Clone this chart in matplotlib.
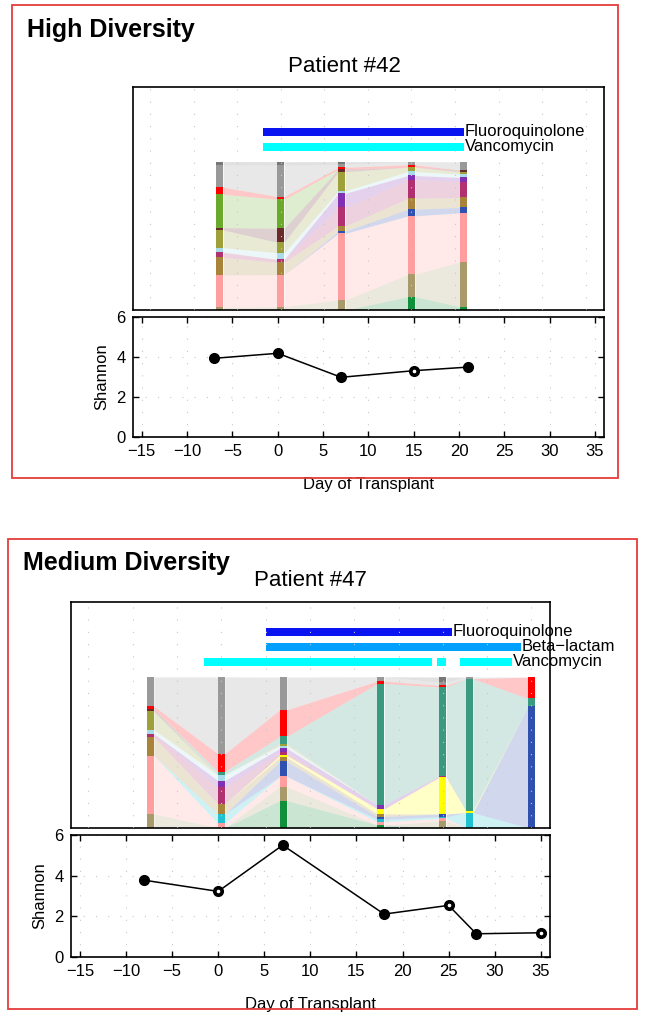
import numpy as np
import matplotlib.pyplot as plt
from matplotlib.patches import Rectangle

plt.rcParams['font.family'] = ['Liberation Sans', 'DejaVu Sans']
plt.rcParams['font.size'] = 12

W, H = 645, 1022

# colours of the taxa, bottom -> top of each stack
taxa_names = ['dkgreen', 'tan', 'pink', 'cyan', 'blue', 'brown', 'yellow', 'magenta',
              'purple', 'ltblue', 'olive', 'dkbrown', 'green', 'teal', 'red', 'gray', 'dkgray']
taxa_colors = ['#10903a', '#a89a6a', '#ff9e9e', '#20c0d0', '#3050b0', '#a8843a', '#ffff00', '#b03070',
               '#8030b0', '#a8dce8', '#9ea03a', '#6a2a2a', '#6aaa2a', '#3a9a80', '#ff0000', '#999999', '#777777']

# ---- Patient 42 (high diversity) ----
p42_days = [-7, 0, 7, 15, 21]
p42_comp = {  # fraction per sample
    'dkgreen': [0, 0, 0, .090, .022],
    'tan':     [.018, .022, .067, .151, .303],
    'pink':    [.218, .216, .449, .393, .330],
    'blue':    [0, 0, .016, .045, .036],
    'brown':   [.119, .083, .034, .074, .067],
    'magenta': [.034, .020, .126, .124, .106],
    'purple':  [0, 0, .094, .029, .029],
    'ltblue':  [.031, .045, .016, .027, .022],
    'olive':   [.119, .070, .130, .029, .016],
    'dkbrown': [.016, .094, .016, 0, .011],
    'green':   [.225, .196, 0, 0, 0],
    'red':     [.047, .018, .013, .016, 0],
    'gray':    [.151, .213, .020, .022, .056],
    'dkgray':  [.022, .022, .018, 0, 0],
}
p42_shannon = [3.92, 4.17, 2.97, 3.30, 3.48]
p42_open = [3]
p42_abx = ['Fluoroquinolone', 'Vancomycin']
p42_abx_colors = ['#0a14f0', '#00ffff']
p42_abx_spans = [[(-2, 21)], [(-2, 21)]]

# ---- Patient 47 (medium diversity) ----
p47_days = [-8, 0, 7, 18, 25, 28, 35]
p47_comp = {
    'dkgreen': [0, 0, .180, .018, 0, 0, 0],
    'tan':     [.091, 0, .093, 0, .044, 0, 0],
    'pink':    [.388, .029, .067, .022, .018, 0, 0],
    'cyan':    [0, .062, 0, .016, .011, .100, 0],
    'blue':    [0, 0, .100, .018, .018, 0, .805],
    'brown':   [.122, .067, .027, .018, 0, 0, 0],
    'yellow':  [0, 0, .013, .033, .244, .011, 0],
    'magenta': [.022, .111, .020, 0, .009, 0, 0],
    'purple':  [0, .044, .027, .027, 0, 0, 0],
    'ltblue':  [.027, .038, .018, 0, 0, 0, 0],
    'olive':   [.122, 0, .013, 0, 0, 0, 0],
    'dkbrown': [.016, 0, 0, 0, 0, 0, 0],
    'teal':    [0, .022, .048, .805, .590, .878, .053],
    'red':     [.018, .118, .177, .016, .011, 0, .142],
    'gray':    [.195, .510, .217, .029, .022, .011, 0],
    'dkgray':  [0, 0, 0, 0, .033, 0, 0],
}
p47_shannon = [3.77, 3.22, 5.50, 2.10, 2.53, 1.13, 1.18]
p47_open = [1, 4, 6]
p47_abx = ['Fluoroquinolone', 'Beta\u2212lactam', 'Vancomycin']
p47_abx_colors = ['#0a14f0', '#00a0ff', '#00ffff']
p47_abx_spans = [[(5, 26)], [(5, 33.8)], [(-2, 23.8), (24.4, 25.4), (26.9, 32.8)]]

fig = plt.figure(figsize=(W / 100, H / 100), dpi=100)


def px_axes(l, t, r, b):
    return fig.add_axes([l / W, 1 - b / H, (r - l) / W, (b - t) / H])


def red_box(l, t, r, b):
    fig.add_artist(Rectangle((l / W, 1 - b / H), (r - l) / W, (b - t) / H, transform=fig.transFigure,
                             fill=False, ec='#e53b3b', lw=1.3))


def draw_comp(ax, days, comp, abx, abx_colors, abx_spans, title, title_x=0.5):
    w = 0.78
    names = [n for n in taxa_names if n in comp]
    cols = [taxa_colors[taxa_names.index(n)] for n in names]
    fr = np.array([comp[n] for n in names])
    tops = np.cumsum(fr, axis=0)
    bots = tops - fr
    # flows between neighbouring samples
    for i in range(len(days) - 1):
        xa, xb = days[i] + w / 2, days[i + 1] - w / 2
        for k in range(len(names)):
            ax.fill_between([xa, xb], [bots[k, i], bots[k, i + 1]], [tops[k, i], tops[k, i + 1]],
                            color=cols[k], alpha=0.22, lw=0)
    for k in range(len(names)):
        ax.bar(days, fr[k], bottom=bots[k], width=w, color=cols[k], lw=0)
    # antibiotics
    n = len(abx)
    for j in range(n):
        y = 1.1 + 0.1 * (n - 1 - j)
        for s, e in abx_spans[j]:
            ax.barh(y, e - s, left=s, height=0.055, color=abx_colors[j], lw=0)
        ax.text(abx_spans[j][-1][1] + 0.1, y, abx[j], va='center', ha='left', fontsize=12)
    ax.set_xlim(-17, 37.1)
    ax.set_ylim(0, 1.5)
    ax.set_xticks(range(-15, 36, 5))
    ax.set_yticks([])
    ax.tick_params(length=0, labelbottom=False)
    ax.grid(True, axis='x', color='#c8c8c8', ls=(0, (1, 10)), lw=0.8)
    ax.set_axisbelow(False)
    for sp in ax.spines.values():
        sp.set_linewidth(1.2)
    ax.set_title(title, fontsize=16, pad=11, x=title_x)


def draw_shannon(ax, days, vals, open_idx):
    ax.plot(days, vals, '-', color='k', lw=1.1, marker='o', ms=7, mfc='k', mec='k')
    ax.plot([days[i] for i in open_idx], [vals[i] for i in open_idx], 'o', ms=1.6, color='white')
    ax.set_xlim(-16, 36)
    ax.set_ylim(0, 6)
    ax.set_xticks(range(-15, 36, 5))
    ax.set_yticks([0, 2, 4, 6])
    ax.tick_params(direction='in', top=True, right=True, length=4, width=1, pad=5, labelsize=12)
    ax.grid(True, color='#c8c8c8', ls=(0, (1, 10)), lw=0.8)
    for sp in ax.spines.values():
        sp.set_linewidth(1.2)
    ax.set_ylabel('Shannon', fontsize=12, labelpad=5)
    ax.set_xlabel('Day of Transplant', fontsize=12, labelpad=13)


# top panel
red_box(12, 5, 618, 478)
fig.text(27 / W, 1 - 37 / H, 'High Diversity', fontsize=18, fontweight='bold', ha='left', va='baseline')
ax1 = px_axes(132.7, 87.3, 604, 310)
draw_comp(ax1, p42_days, p42_comp, p42_abx, p42_abx_colors, p42_abx_spans, 'Patient #42', title_x=0.45)
ax2 = px_axes(132.7, 316.7, 604, 436.7)
draw_shannon(ax2, p42_days, p42_shannon, p42_open)

# bottom panel
red_box(8.3, 539, 636.7, 1009)
fig.text(22.7 / W, 1 - 570 / H, 'Medium Diversity', fontsize=18, fontweight='bold', ha='left', va='baseline')
ax3 = px_axes(70.7, 601.7, 550, 827.7)
draw_comp(ax3, p47_days, p47_comp, p47_abx, p47_abx_colors, p47_abx_spans, 'Patient #47')
ax4 = px_axes(70.7, 835, 550, 956.7)
draw_shannon(ax4, p47_days, p47_shannon, p47_open)

fig.savefig('out.png', dpi=100)
